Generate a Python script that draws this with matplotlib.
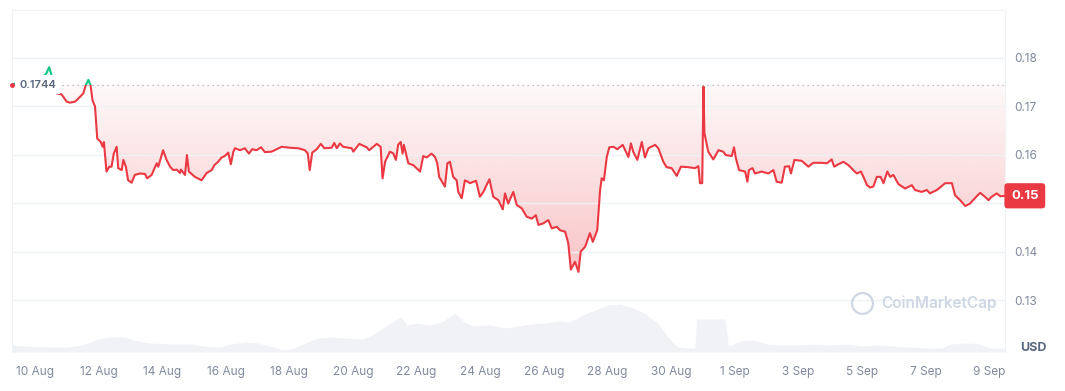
import numpy as np
import pandas as pd
import matplotlib
matplotlib.use("Agg")
import matplotlib.pyplot as plt
import matplotlib.dates as mdates
from matplotlib.path import Path
from matplotlib.patches import PathPatch, Rectangle

plt.rcParams['font.family'] = ['Inter', 'DejaVu Sans']

# price, days after 10 Aug 00:00
day_offset = [
    -0.72, -0.47, -0.25, -0.10, 0.03, 0.16, 0.26, 0.35, 0.45, 0.53, 0.68,
    0.84, 1.00, 1.10, 1.26, 1.42, 1.52, 1.60, 1.68, 1.75, 1.81, 1.89, 1.96,
    2.07, 2.13, 2.17, 2.25, 2.34, 2.41, 2.48, 2.57, 2.62, 2.73, 2.78, 2.86,
    2.93, 3.04, 3.14, 3.30, 3.46, 3.53, 3.67, 3.83, 3.88, 4.03, 4.14, 4.25,
    4.35, 4.46, 4.56, 4.59, 4.72, 4.78, 4.84, 5.03, 5.24, 5.40, 5.56, 5.64,
    5.76, 5.87, 5.97, 6.08, 6.16, 6.24, 6.29, 6.45, 6.60, 6.73, 6.83, 6.97,
    7.11, 7.23, 7.44, 7.76, 8.02, 8.28, 8.49, 8.58, 8.64, 8.72, 8.86, 8.99,
    9.10, 9.33, 9.41, 9.49, 9.59, 9.69, 9.96, 10.01, 10.20, 10.43, 10.51,
    10.75, 10.87, 10.93, 11.01, 11.16, 11.27, 11.35, 11.42, 11.50, 11.56,
    11.60, 11.74, 11.90, 12.11, 12.21, 12.32, 12.47, 12.58, 12.65, 12.71,
    12.89, 12.97, 13.05, 13.15, 13.26, 13.31, 13.42, 13.52, 13.61, 13.68,
    13.87, 13.99, 14.10, 14.20, 14.29, 14.41, 14.57, 14.71, 14.78, 14.88,
    15.04, 15.15, 15.31, 15.46, 15.62, 15.75, 15.83, 15.98, 16.14, 16.25,
    16.41, 16.51, 16.67, 16.77, 16.85, 16.98, 17.09, 17.16, 17.30, 17.45,
    17.54, 17.68, 17.77, 17.82, 17.89, 17.98, 18.06, 18.19, 18.31, 18.48,
    18.66, 18.74, 18.81, 18.94, 19.08, 19.18, 19.29, 19.50, 19.60, 19.76,
    19.86, 20.02, 20.18, 20.31, 20.54, 20.75, 20.86, 20.91, 20.98, 21.02,
    21.05, 21.17, 21.33, 21.49, 21.64, 21.72, 21.91, 21.98, 22.04, 22.14,
    22.33, 22.40, 22.45, 22.56, 22.64, 22.85, 23.06, 23.22, 23.32, 23.48,
    23.58, 23.71, 23.77, 23.88, 24.11, 24.32, 24.47, 24.74, 24.90, 25.05,
    25.13, 25.26, 25.42, 25.58, 25.73, 25.84, 25.97, 26.05, 26.16, 26.26,
    26.36, 26.47, 26.59, 26.68, 26.80, 26.89, 26.99, 27.15, 27.36, 27.57,
    27.67, 27.88, 28.04, 28.14, 28.36, 28.62, 28.83, 28.93, 29.09, 29.25,
    29.40, 29.61, 29.72, 29.87, 29.98, 30.08, 30.24, 30.35, 30.50,
]
price = [
    0.1744, 0.1750, 0.1754, 0.1761, 0.1754, 0.1756, 0.1761, 0.1766, 0.1780, 0.1762, 0.1726,
    0.1724, 0.1709, 0.1707, 0.1709, 0.1719, 0.1726, 0.1743, 0.1754, 0.1743, 0.1712, 0.1699, 0.1633,
    0.1626, 0.1616, 0.1626, 0.1565, 0.1575, 0.1575, 0.1602, 0.1616, 0.1572, 0.1568, 0.1589, 0.1575,
    0.1547, 0.1542, 0.1558, 0.1561, 0.1560, 0.1551, 0.1558, 0.1582, 0.1575, 0.1609, 0.1589, 0.1575,
    0.1568, 0.1569, 0.1562, 0.1569, 0.1558, 0.1599, 0.1565, 0.1554, 0.1547, 0.1562, 0.1568, 0.1578,
    0.1585, 0.1594, 0.1597, 0.1604, 0.1580, 0.1606, 0.1613, 0.1609, 0.1613, 0.1602, 0.1611, 0.1609,
    0.1615, 0.1605, 0.1606, 0.1616, 0.1614, 0.1613, 0.1609, 0.1602, 0.1568, 0.1604, 0.1611, 0.1622,
    0.1613, 0.1614, 0.1624, 0.1613, 0.1623, 0.1616, 0.1613, 0.1606, 0.1622, 0.1615, 0.1609,
    0.1622, 0.1616, 0.1551, 0.1585, 0.1606, 0.1602, 0.1589, 0.1620, 0.1626, 0.1602,
    0.1620, 0.1582, 0.1578, 0.1565, 0.1597, 0.1594, 0.1602, 0.1595, 0.1582, 0.1554,
    0.1534, 0.1582, 0.1585, 0.1554, 0.1547, 0.1523, 0.1510, 0.1547, 0.1544, 0.1541,
    0.1546, 0.1513, 0.1523, 0.1537, 0.1549, 0.1513, 0.1506, 0.1487, 0.1520, 0.1499,
    0.1523, 0.1496, 0.1489, 0.1472, 0.1468, 0.1475, 0.1455, 0.1458, 0.1465, 0.1448,
    0.1451, 0.1444, 0.1441, 0.1417, 0.1363, 0.1379, 0.1358, 0.1400, 0.1410, 0.1438,
    0.1420, 0.1444, 0.1527, 0.1551, 0.1547, 0.1595, 0.1615, 0.1616, 0.1611, 0.1620,
    0.1595, 0.1623, 0.1606, 0.1589, 0.1626, 0.1594, 0.1613, 0.1620, 0.1613, 0.1585,
    0.1574, 0.1572, 0.1556, 0.1575, 0.1574, 0.1572, 0.1576, 0.1541, 0.1541, 0.1740,
    0.1644, 0.1606, 0.1590, 0.1609, 0.1606, 0.1599, 0.1597, 0.1615, 0.1592, 0.1568,
    0.1565, 0.1544, 0.1568, 0.1572, 0.1561, 0.1565, 0.1561, 0.1568, 0.1544, 0.1542,
    0.1575, 0.1576, 0.1561, 0.1589, 0.1587, 0.1575, 0.1583, 0.1583, 0.1582, 0.1590,
    0.1575, 0.1580, 0.1585, 0.1578, 0.1568, 0.1561, 0.1565, 0.1554, 0.1537, 0.1532,
    0.1534, 0.1554, 0.1554, 0.1541, 0.1565, 0.1554, 0.1558, 0.1539, 0.1530, 0.1537,
    0.1527, 0.1523, 0.1527, 0.1520, 0.1527, 0.1541, 0.1541, 0.1516, 0.1506, 0.1494,
    0.1499, 0.1514, 0.1521, 0.1513, 0.1506, 0.1513, 0.1520, 0.1514, 0.1515,
]

# traded volume (relative), days after 10 Aug
vol_offset = [
    -0.72, -0.3, 0.5, 1.0, 1.5, 1.9, 2.3, 2.8, 3.1, 3.6, 4.3, 4.9, 5.3, 5.8,
    6.2, 6.6, 7.0, 7.4, 7.8, 8.1, 8.5, 8.9, 9.3, 9.8, 10.3, 10.6, 11.0, 11.5,
    11.7, 12.0, 12.4, 12.8, 13.2, 13.5, 13.8, 14.3, 14.8, 15.2, 15.6, 16.0,
    16.5, 16.8, 17.3, 17.7, 18.0, 18.4, 18.8, 19.2, 19.6, 19.9, 20.2, 20.6,
    20.75, 20.8, 21.3, 21.7, 21.8, 22.2, 22.6, 23.0, 23.5, 24.0, 24.5, 25.0,
    25.5, 26.0, 26.5, 27.0, 27.5, 28.0, 28.5, 28.8, 29.3, 29.7, 30.0, 30.5,
]
volume = [
    7, 6, 5, 5, 7, 12, 15, 15, 12, 9, 8, 8, 6, 5,
    8, 10, 9, 6, 2, 3, 9, 14, 15, 14, 13, 17, 25, 35,
    27, 29, 27, 30, 39, 30, 26, 27, 24, 26, 28, 29,
    31, 30, 38, 43, 47, 48, 44, 38, 28, 15, 5, 4,
    4, 33, 33, 33, 6, 11, 12, 8, 7, 7, 8, 7,
    8, 6, 7, 6, 5, 4, 4, 8, 9, 8, 4, 4,
]

open_price = 0.1744
tick_labels = ['10 Aug', '12 Aug', '14 Aug', '16 Aug', '18 Aug', '20 Aug', '22 Aug',
               '24 Aug', '26 Aug', '28 Aug', '30 Aug', '1 Sep', '3 Sep', '5 Sep',
               '7 Sep', '9 Sep']
y_ticks = [0.13, 0.14, 0.15, 0.16, 0.17, 0.18]

RED = '#ea3943'
GREEN = '#16c784'
GRID = '#eff2f5'
TXT = '#808a9d'

start = pd.Timestamp('2024-08-10')
t = start + pd.to_timedelta(day_offset, unit='D')
tv = start + pd.to_timedelta(vol_offset, unit='D')
tx = mdates.date2num(t)
p = np.array(price)

fig = plt.figure(figsize=(10.65, 3.91), dpi=100)
ax = fig.add_axes([12 / 1065, 39 / 391, 993 / 1065, 342 / 391])
axv = ax.twinx()
ax.set_zorder(axv.get_zorder() + 1)
ax.patch.set_visible(False)

# volume
axv.fill_between(tv, volume, 0, color='#f0f2f5', lw=0)
axv.set_ylim(0, 342)
axv.set_yticks([])
for s in axv.spines.values():
    s.set_visible(False)

# gradient fill between the line and the opening price
below = np.minimum(p, open_price)
verts = np.column_stack([np.r_[tx, tx[-1], tx[0]], np.r_[below, open_price, open_price]])
clip = PathPatch(Path(verts), transform=ax.transData, facecolor='none', edgecolor='none')
ax.add_patch(clip)
grad = np.zeros((256, 1, 4))
grad[..., :3] = matplotlib.colors.to_rgb(RED)
grad[:, 0, 3] = np.linspace(0.30, 0.03, 256)
im = ax.imshow(grad, extent=[tx[0], tx[-1], p.min(), open_price], aspect='auto',
               origin='lower', zorder=1)
im.set_clip_path(clip)

above = np.maximum(p, open_price)
ax.fill_between(t, above, open_price, color=GREEN, alpha=0.08, lw=0, zorder=1)

# line, red below the opening price and green above it
ln_r, = ax.plot(t, p, color=RED, lw=1.5, zorder=3, solid_joinstyle='round')
ln_g, = ax.plot(t, p, color=GREEN, lw=1.5, zorder=3, solid_joinstyle='round')
ln_r.set_clip_path(Rectangle((tx[0] - 1, 0), 40, open_price, transform=ax.transData))
ln_g.set_clip_path(Rectangle((tx[0] - 1, open_price), 40, 1, transform=ax.transData))

ax.axhline(open_price, color='#a6b0c3', lw=0.9, ls=(0, (1, 3)), zorder=2)

ax.set_xlim(tx[0], tx[-1])
ax.set_ylim(0.1193, 0.1898)
ax.set_xticks(pd.date_range('2024-08-10', '2024-09-09', freq='2D'))
ax.set_xticklabels(tick_labels)
ax.set_yticks(y_ticks)
# the 0.15 label sits under the last price tag
ax.set_yticklabels(['' if v == 0.15 else f'{v:.2f}' for v in y_ticks])
ax.yaxis.tick_right()
ax.tick_params(axis='both', length=0, labelsize=8.5, labelcolor=TXT)
ax.tick_params(axis='x', pad=10)
ax.tick_params(axis='y', pad=7)
ax.grid(axis='y', color=GRID, lw=1)
for side in ['left', 'right', 'top']:
    ax.spines[side].set_color(GRID)
ax.spines['bottom'].set_visible(False)

# opening price marker and label
ax.plot(tx[0], open_price, 'o', color=RED, ms=2.5, clip_on=False, zorder=6)
ax.annotate('0.1744', xy=(0, open_price), xycoords=('axes fraction', 'data'),
            xytext=(7, 0), textcoords='offset pixels', va='center', ha='left',
            fontsize=8, fontweight='semibold', color='#58667e', zorder=5,
            bbox=dict(boxstyle='square,pad=0.4', fc='white', ec='none'))

# last price tag
ax.annotate('0.15', xy=(1, p[-1]), xycoords=('axes fraction', 'data'),
            xytext=(6, 0), textcoords='offset pixels', va='center', ha='left',
            fontsize=9.5, fontweight='bold', color='white', zorder=6,
            annotation_clip=False,
            bbox=dict(boxstyle='round,pad=0.5,rounding_size=0.25', fc=RED, ec='none'))

fig.text(1020 / 1065, 1 - 348 / 391, 'USD', fontsize=9, fontweight='bold',
         color='#58667e', va='center', ha='left')

# watermark
fig.add_artist(plt.Line2D([862 / 1065], [1 - 303 / 391], marker='o', ms=15,
                          mfc='none', mec='#cfd6e4', mew=1.6, transform=fig.transFigure))
fig.text(881 / 1065, 1 - 303 / 391, 'CoinMarketCap', fontsize=11, fontweight='semibold',
         color='#cfd6e4', va='center', ha='left')

fig.savefig('out.png', dpi=100)
